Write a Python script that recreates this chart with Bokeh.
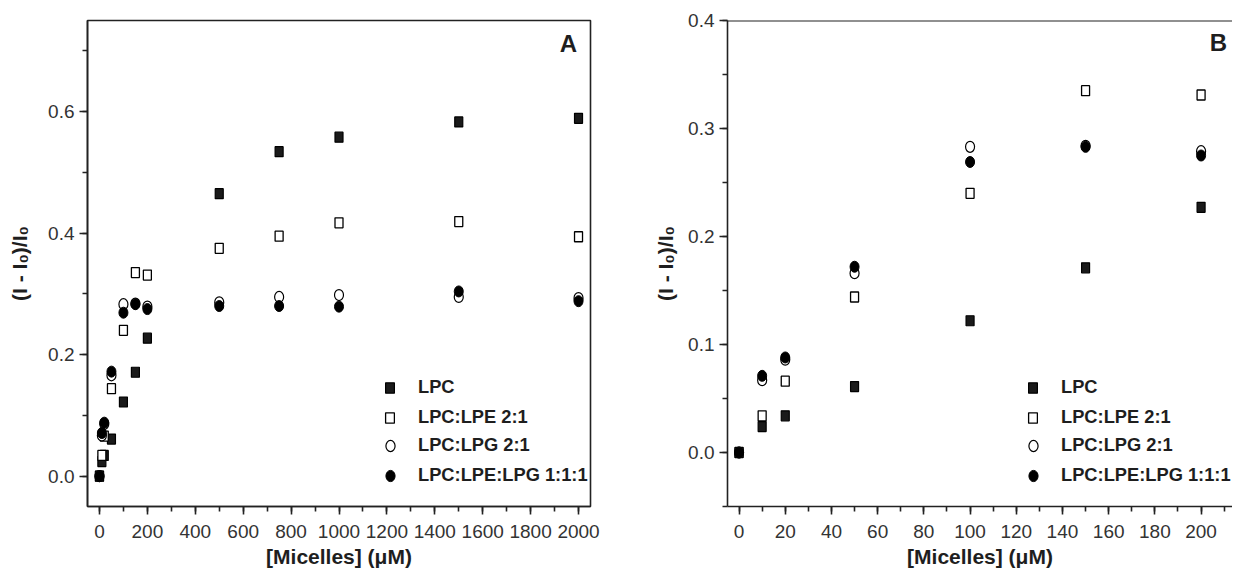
from bokeh.plotting import figure
from bokeh.models import (Range1d, SingleIntervalTicker, PrintfTickFormatter,
                          Legend, LegendItem, Label, Span)
from bokeh.layouts import row
from bokeh.embed import file_html
from bokeh.resources import INLINE

# ---------------- data ----------------
conc_low = [0, 10, 20, 50, 100, 150, 200]          # µM
conc_high = [500, 750, 1000, 1500, 2000]           # µM

lpc_low = [0.0, 0.024, 0.034, 0.061, 0.122, 0.171, 0.227]
lpc_high = [0.465, 0.534, 0.558, 0.583, 0.589]

lpe_low = [0.0, 0.034, 0.066, 0.144, 0.240, 0.335, 0.331]
lpe_high = [0.375, 0.395, 0.417, 0.419, 0.394]

lpg_low = [0.0, 0.067, 0.086, 0.166, 0.283, 0.284, 0.279]
lpg_high = [0.286, 0.295, 0.298, 0.295, 0.293]

mix_low = [0.0, 0.071, 0.088, 0.172, 0.269, 0.283, 0.275]
mix_high = [0.280, 0.280, 0.279, 0.304, 0.288]

series_names = ["LPC", "LPC:LPE 2:1", "LPC:LPG 2:1", "LPC:LPE:LPG 1:1:1"]
x_label = "[Micelles] (\u03bcM)"
y_label = "(I - I\u2080)/I\u2080"

# ---------------- style ----------------
FONT = "Liberation Sans"
LINE = "#222222"
TICK_TXT = "#333333"
TXT = "#1e1e1e"


def style_axes(p, y_standoff):
    for ax in (p.xaxis[0], p.yaxis[0]):
        ax.axis_line_color = LINE
        ax.axis_line_width = 1.6
        ax.major_tick_line_color = LINE
        ax.major_tick_line_width = 1.6
        ax.minor_tick_line_color = LINE
        ax.minor_tick_line_width = 1.6
        ax.major_tick_in = 0
        ax.major_tick_out = 8
        ax.minor_tick_in = 0
        ax.minor_tick_out = 5
        ax.major_label_text_font = FONT
        ax.major_label_text_font_size = "19px"
        ax.major_label_text_color = TICK_TXT
        ax.axis_label_text_font = FONT
        ax.axis_label_text_font_size = "21px"
        ax.axis_label_text_font_style = "bold"
        ax.axis_label_text_color = TXT
    p.xaxis.major_label_standoff = 10
    p.yaxis.major_label_standoff = 5
    p.xaxis.axis_label = x_label
    p.yaxis.axis_label = y_label
    p.xaxis.axis_label_standoff = 4
    p.yaxis.axis_label_standoff = y_standoff
    p.yaxis.formatter = PrintfTickFormatter(format="%.1f")
    p.xgrid.visible = False
    p.ygrid.visible = False


def add_series(p, xs, ys_list):
    r1 = p.rect(x=xs, y=ys_list[0], width=8, height=10, width_units="screen",
                height_units="screen", fill_color="#1a1a1a", line_color="#000000",
                line_width=1.2)
    r2 = p.rect(x=xs, y=ys_list[1], width=8, height=10, width_units="screen",
                height_units="screen", fill_color="#ffffff", line_color="#000000",
                line_width=1.3)
    r3 = p.ellipse(x=xs, y=ys_list[2], width=9, height=11, width_units="screen",
                   height_units="screen", fill_color="#ffffff", line_color="#000000",
                   line_width=1.2)
    r4 = p.ellipse(x=xs, y=ys_list[3], width=9, height=11, width_units="screen",
                   height_units="screen", fill_color="#000000", line_color="#000000",
                   line_width=1.0)
    return [r1, r2, r3, r4]


def make_legend(names, renderers, loc, gw, gh, standoff):
    items = [LegendItem(label=n, renderers=[r]) for n, r in zip(names, renderers)]
    return Legend(items=items, location=loc, glyph_width=gw, glyph_height=gh,
                  label_height=21, label_standoff=standoff, spacing=8, padding=0,
                  margin=0, border_line_color=None, background_fill_alpha=0,
                  label_text_font=FONT, label_text_font_size="18.3px",
                  label_text_font_style="bold", label_text_color=TXT)


def add_legends(p, renderers, x0, y0):
    # squares: small glyph box; circles: larger glyph box (ellipse legend keeps aspect)
    p.add_layout(make_legend(series_names[:2], renderers[:2], (x0, y0 + 58), 11, 13, 23))
    p.add_layout(make_legend(series_names[2:], renderers[2:], (x0 - 1, y0), 14, 15, 21))


# ---------------- panel A ----------------
pa = figure(width=600, height=574, x_range=Range1d(-50, 2050),
            y_range=Range1d(-0.05, 0.75), output_backend="svg",
            toolbar_location=None, min_border_left=87, min_border_right=10,
            min_border_top=19, min_border_bottom=68)
pa.outline_line_color = LINE
pa.outline_line_width = 1.6
pa.xaxis.ticker = SingleIntervalTicker(interval=200, num_minor_ticks=2)
pa.yaxis.ticker = SingleIntervalTicker(interval=0.2, num_minor_ticks=2)
style_axes(pa, 14)

xa = conc_low + conc_high
ra = add_series(pa, xa, [lpc_low + lpc_high, lpe_low + lpe_high,
                         lpg_low + lpg_high, mix_low + mix_high])
add_legends(pa, ra, 297, 20)
pa.add_layout(Label(x=1958, y=0.712, text="A", text_align="center",
                    text_baseline="middle", text_font=FONT, text_font_size="24px",
                    text_font_style="bold", text_color=TXT))

# ---------------- panel B ----------------
pb = figure(width=632, height=574, x_range=Range1d(-5, 213.6),
            y_range=Range1d(-0.05, 0.4), output_backend="svg",
            toolbar_location=None, min_border_left=127, min_border_right=0,
            min_border_top=20, min_border_bottom=68)
pb.outline_line_color = None
pb.xaxis.ticker = SingleIntervalTicker(interval=20, num_minor_ticks=2)
pb.yaxis.ticker = SingleIntervalTicker(interval=0.1, num_minor_ticks=2)
style_axes(pb, 8)
pb.add_layout(Span(location=0.4, dimension="width", line_color=LINE, line_width=1.8))

rb = add_series(pb, conc_low, [lpc_low, lpe_low, lpg_low, mix_low])
add_legends(pb, rb, 300, 20)
pb.add_layout(Label(x=207.5, y=0.38, text="B", text_align="center",
                    text_baseline="middle", text_font=FONT, text_font_size="24px",
                    text_font_style="bold", text_color=TXT))

layout = row(pa, pb)
open("out.html", "w").write(file_html(layout, INLINE))
